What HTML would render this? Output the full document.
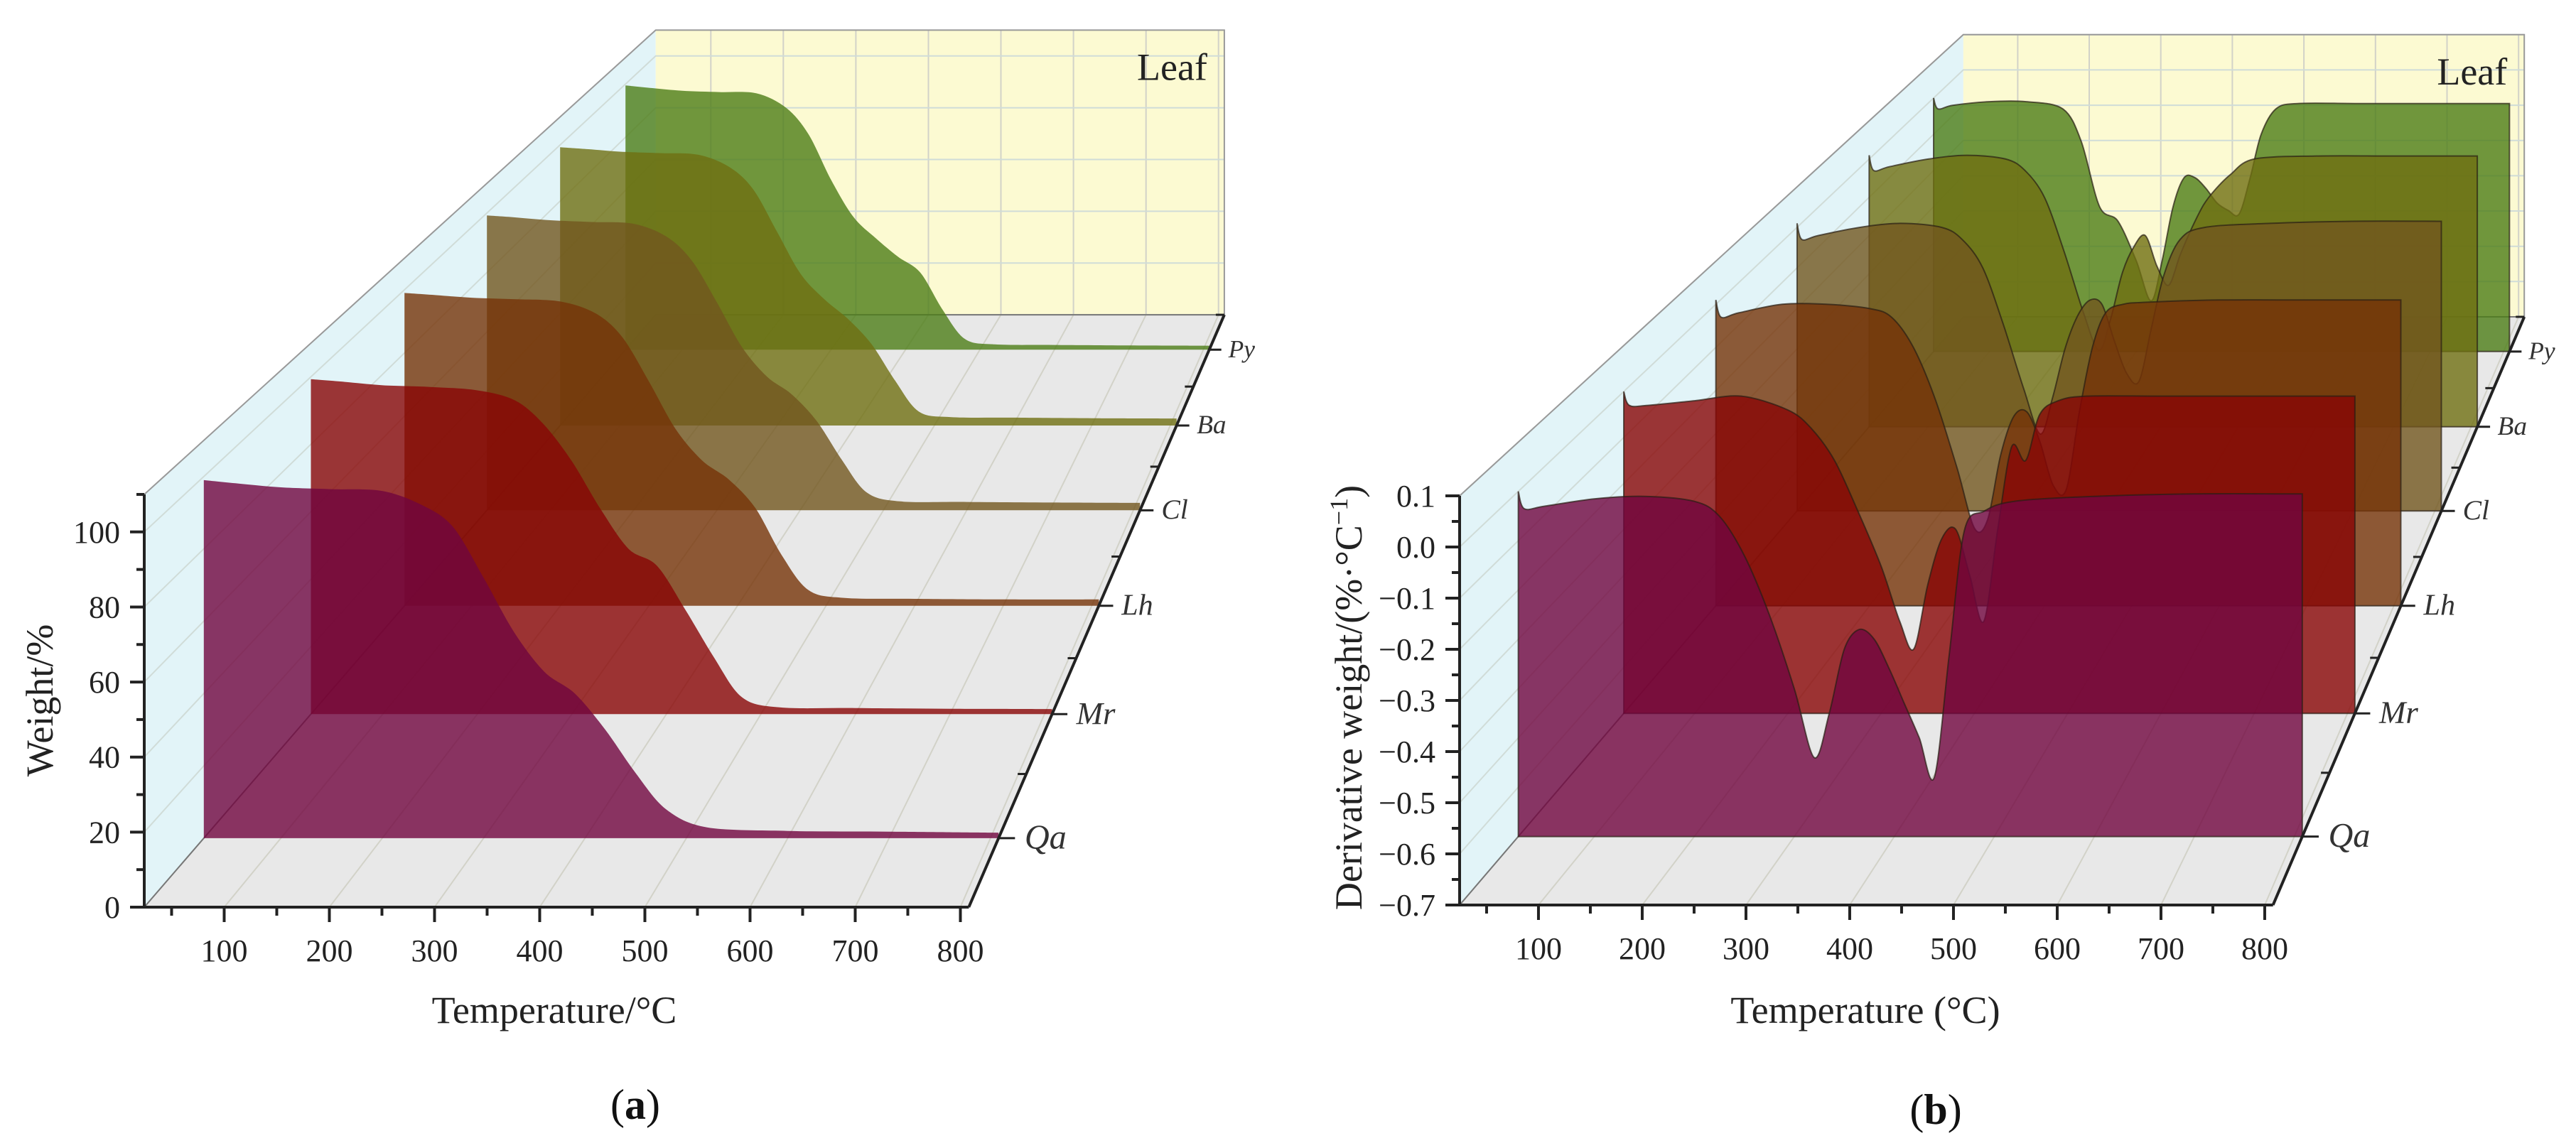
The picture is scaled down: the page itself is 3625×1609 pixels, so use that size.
<!DOCTYPE html>
<html><head><meta charset="utf-8">
<style>
html,body{margin:0;padding:0;background:#fff;}
svg{display:block;font-family:"Liberation Serif",serif;}
</style></head>
<body>
<svg id="chart" width="3625" height="1609" viewBox="0 0 3625 1609" xmlns="http://www.w3.org/2000/svg">
<g id="panelA"></g>
<g id="panelB"></g>
</svg>
<script>
// ---- data ----
const species = ["Qa","Mr","Lh","Cl","Ba","Py"];
const tgTemps = [24,60,100,150,200,240,270,300,330,360,390,420,450,480,520,600,700,808];
const tgQa = [99,98,97,96.5,96,92,86,72,57,46,40,30,18,8,3,2,1.8,1.5];
const tgMr = [99.3,98.5,97.5,97,96,93,86,75,61,49,44,31,17,5,2,1.8,1.6,1.5];
const tgLh = [99,98.3,97.5,97,96.3,92.5,85,71,56,46,40,31,16,5,2.5,2.2,2,2];
const tgCl = [99.2,98.5,97.6,97,96.4,92,84,70,55,45,39,30,17,6,3,2.8,2.6,2.5];
const tgBa = [99.2,98.5,97.6,97.1,96.5,92,84,69,54,45,38,29,16,5,3,2.8,2.6,2.5];
const tgPy = [99.5,98.5,97.5,97,96.5,91,81,64,50,42,35,29,15,4,2,1.8,1.6,1.5];
const tgSeries = [tgQa,tgMr,tgLh,tgCl,tgBa,tgPy];

const dtgTemps = [24,30,50,100,150,200,225,250,275,300,320,335,350,365,380,395,410,425,440,455,470,490,520,600,700,808];
const dtgQa = [0.0,-0.035,-0.03,-0.015,-0.01,-0.02,-0.05,-0.13,-0.25,-0.40,-0.54,-0.45,-0.32,-0.28,-0.30,-0.36,-0.43,-0.50,-0.58,-0.33,-0.08,-0.04,-0.02,-0.01,-0.005,-0.005];
const dtgMr = [0.0,-0.03,-0.03,-0.02,-0.01,-0.04,-0.08,-0.15,-0.26,-0.38,-0.50,-0.56,-0.42,-0.32,-0.30,-0.40,-0.50,-0.30,-0.12,-0.15,-0.05,-0.02,-0.01,-0.01,-0.01,-0.01];
const dtgLh = [0.01,-0.03,-0.02,0.0,0.0,-0.01,-0.03,-0.10,-0.22,-0.38,-0.52,-0.50,-0.35,-0.26,-0.25,-0.32,-0.42,-0.43,-0.25,-0.10,-0.02,0.0,0.005,0.01,0.01,0.01];
const dtgCl = [0.01,-0.03,-0.02,0.0,0.01,0.0,-0.03,-0.10,-0.24,-0.40,-0.51,-0.42,-0.30,-0.22,-0.18,-0.19,-0.28,-0.36,-0.38,-0.25,-0.12,-0.03,0.0,0.01,0.015,0.015];
const dtgBa = [0.01,-0.03,-0.02,0.0,0.01,0.0,-0.03,-0.10,-0.24,-0.40,-0.50,-0.42,-0.30,-0.23,-0.20,-0.28,-0.33,-0.25,-0.18,-0.12,-0.08,-0.04,0.0,0.008,0.008,0.008];
const dtgPy = [0.0,-0.03,-0.02,-0.01,-0.01,-0.03,-0.12,-0.30,-0.34,-0.45,-0.56,-0.45,-0.30,-0.22,-0.22,-0.25,-0.29,-0.31,-0.32,-0.22,-0.10,-0.03,-0.015,-0.015,-0.015,-0.015];
const dtgSeries = [dtgQa,dtgMr,dtgLh,dtgCl,dtgBa,dtgPy];

const xTicks = [100,200,300,400,500,600,700,800];
const xMinor = [50,150,250,350,450,550,650,750];
const yTicksA = [0,20,40,60,80,100];
const yMinorA = [10,30,50,70,90,110];
const yTicksB = [-0.7,-0.6,-0.5,-0.4,-0.3,-0.2,-0.1,0.0,0.1];
const yMinorB = [-0.65,-0.55,-0.45,-0.35,-0.25,-0.15,-0.05,0.05];

const colors = ["rgb(112,5,62)","rgb(136,5,5)","rgb(118,51,8)","rgb(114,86,30)","rgb(111,111,17)","rgb(76,125,22)"];
const NS = "http://www.w3.org/2000/svg";

function mk(parent, tag, attrs, text){
  const e = document.createElementNS(NS, tag);
  for (const k in attrs) e.setAttribute(k, attrs[k]);
  if (text !== undefined) e.textContent = text;
  parent.appendChild(e);
  return e;
}

function makeProj(c){
  return function(T, v, d){
    const s = 1/(1+0.075*d);
    const xf = c.ox + (T - c.T0)*c.kx;
    const yf = c.oy - (v - c.vmin)*c.ky;
    return [c.vpx + (xf - c.vpx)*s, c.vpy + (yf - c.vpy)*s];
  };
}
function poly(pts){ return pts.map(p=>p[0].toFixed(1)+","+p[1].toFixed(1)).join(" "); }
function smoothPath(pts){
  let d = "M"+pts[0][0].toFixed(1)+","+pts[0][1].toFixed(1);
  for (let i=0;i<pts.length-1;i++){
    const p0 = pts[i-1]||pts[i], p1=pts[i], p2=pts[i+1], p3=pts[i+2]||pts[i+1];
    const t = 0.16;
    const c1=[p1[0]+(p2[0]-p0[0])*t, p1[1]+(p2[1]-p0[1])*t];
    const c2=[p2[0]-(p3[0]-p1[0])*t, p2[1]-(p3[1]-p1[1])*t];
    d += " C"+c1[0].toFixed(1)+","+c1[1].toFixed(1)+" "+c2[0].toFixed(1)+","+c2[1].toFixed(1)+" "+p2[0].toFixed(1)+","+p2[1].toFixed(1);
  }
  return d;
}

function drawPanel(g, c, temps, series, yTicks, yMinor, fmt, outline){
  const P = makeProj(c);
  const D = 6;
  const floor = mk(g,"polygon",{points:poly([P(c.T0,c.vmin,0),P(c.Tmax,c.vmin,0),P(c.Tmax,c.vmin,D),P(c.T0,c.vmin,D)]),fill:"#e8e8e8"});
  
  
  const wall = mk(g,"polygon",{points:poly([P(c.T0,c.vmin,0),P(c.T0,c.vmax,0),P(c.T0,c.vmax,D),P(c.T0,c.vmin,D)]),fill:"#e2f4f8"});
  
  
  const back = mk(g,"polygon",{points:poly([P(c.T0,c.vmin,D),P(c.Tmax,c.vmin,D),P(c.Tmax,c.vmax,D),P(c.T0,c.vmax,D)]),fill:"#fcfad2"});
  
  
  xTicks.forEach(t=>{
    const a=P(t,c.vmin,0), b=P(t,c.vmin,D), e=P(t,c.vmax,D);
    const l1 = mk(g,"polyline",{points:poly([a,b,e]),fill:"none",stroke:"#d2d2c8","stroke-width":2});
    
    
  });
  yTicks.forEach(v=>{
    const a=P(c.T0,v,0), b=P(c.T0,v,D), e=P(c.Tmax,v,D);
    const l2 = mk(g,"polyline",{points:poly([a,b,e]),fill:"none",stroke:"#d0dcd8","stroke-width":2});
    
    
  });
  const e1 = mk(g,"polyline",{points:poly([P(c.T0,c.vmin,0),P(c.T0,c.vmin,D),P(c.Tmax,c.vmin,D)]),fill:"none",stroke:"#777","stroke-width":2});
  
  
  const e2 = mk(g,"polyline",{points:poly([P(c.T0,c.vmax,0),P(c.T0,c.vmax,D),P(c.Tmax,c.vmax,D),P(c.Tmax,c.vmin,D)]),fill:"none",stroke:"#999","stroke-width":2});
  
  
  for (let i=series.length-1;i>=0;i--){
    const d = i+0.5;
    const pts = temps.map((t,k)=>P(t, series[i][k], d));
    const last = P(temps[temps.length-1], c.vmin, d), first = P(temps[0], c.vmin, d);
    let path = smoothPath(pts)+" L"+last[0].toFixed(1)+","+last[1].toFixed(1)+" L"+first[0].toFixed(1)+","+first[1].toFixed(1)+" Z";
    const r = mk(g,"path",{d:path,fill:colors[i],"fill-opacity":0.8});
    if (outline){ r.setAttribute("stroke","rgba(40,30,20,0.7)"); r.setAttribute("stroke-width","2"); }
    
    
  }
  const o = P(c.T0,c.vmin,0), xr = P(c.Tmax,c.vmin,0), yt = P(c.T0,c.vmax,0), dr = P(c.Tmax,c.vmin,D);
  const xa = mk(g,"line",{x1:o[0],y1:o[1],x2:xr[0],y2:xr[1],stroke:"#222","stroke-width":4});
  
  
  const ya = mk(g,"line",{x1:o[0],y1:o[1],x2:yt[0],y2:yt[1],stroke:"#222","stroke-width":4});
  
  
  const za = mk(g,"line",{x1:xr[0],y1:xr[1],x2:dr[0],y2:dr[1],stroke:"#222","stroke-width":4});
  
  
  xTicks.forEach(t=>{
    const p=P(t,c.vmin,0);
    const tk = mk(g,"line",{x1:p[0],y1:p[1],x2:p[0],y2:p[1]+21,stroke:"#222","stroke-width":4});
    
    
    const lb = mk(g,"text",{x:p[0],y:p[1]+76,"font-size":44,"text-anchor":"middle",fill:"#222"},String(t));
    
    
  });
  xMinor.forEach(t=>{
    const p=P(t,c.vmin,0);
    const tk = mk(g,"line",{x1:p[0],y1:p[1],x2:p[0],y2:p[1]+12,stroke:"#222","stroke-width":4});
    
    
  });
  yTicks.forEach(v=>{
    const p=P(c.T0,v,0);
    const tk = mk(g,"line",{x1:p[0]-20,y1:p[1],x2:p[0],y2:p[1],stroke:"#222","stroke-width":4});
    
    
    const lb = mk(g,"text",{x:p[0]-34,y:p[1]+15,"font-size":44,"text-anchor":"end",fill:"#222"},fmt(v));
    
    
  });
  yMinor.forEach(v=>{
    const p=P(c.T0,v,0);
    const tk = mk(g,"line",{x1:p[0]-11,y1:p[1],x2:p[0],y2:p[1],stroke:"#222","stroke-width":4});
    
    
  });
  for (let k=0;k<=D;k++){
    const p=P(c.Tmax,c.vmin,k);
    const tk = mk(g,"line",{x1:p[0]-12,y1:p[1],x2:p[0],y2:p[1],stroke:"#222","stroke-width":3});
    
    
  }
  species.forEach((sp,i)=>{
    const d=i+0.5, s=1/(1+0.075*d);
    const p=P(c.Tmax,c.vmin,d);
    const tk = mk(g,"line",{x1:p[0],y1:p[1],x2:p[0]+24*s,y2:p[1],stroke:"#222","stroke-width":3});
    
    
    const lb = mk(g,"text",{x:p[0]+38*s,y:p[1]+15*s,"font-size":(50*s).toFixed(1),"font-style":"italic",fill:"#333"},sp);
    
    
  });
  const bt = P(c.Tmax,c.vmax,D);
  const leaf = mk(g,"text",{x:bt[0]-24,y:bt[1]+70,"font-size":54,"text-anchor":"end",fill:"#222"},"Leaf");
  
  
}

const cA = {ox:203,oy:1277,T0:24,Tmax:808,kx:1.48,vmin:0,vmax:110,ky:5.282,vpx:2522,vpy:-1410};
const cB = {ox:2054,oy:1274,T0:24,Tmax:808,kx:1.46,vmin:-0.7,vmax:0.1,ky:720,vpx:4338,vpy:-1394};
const gA = document.getElementById("panelA"), gB = document.getElementById("panelB");
drawPanel(gA,cA,tgTemps,tgSeries,yTicksA,yMinorA,v=>String(v),false);
drawPanel(gB,cB,dtgTemps,dtgSeries,yTicksB,yMinorB,v=>(v<0?"\u2212":"")+Math.abs(v).toFixed(1),true);

let t;
t = mk(gA,"text",{x:780,y:1440,"font-size":54,"text-anchor":"middle",fill:"#222"},"Temperature/\u00B0C");


t = mk(gA,"text",{x:0,y:0,"font-size":54,"text-anchor":"middle",fill:"#222",transform:"translate(74,986) rotate(-90)"},"Weight/%");


t = mk(gA,"text",{x:894,y:1575,"font-size":60,"text-anchor":"middle",fill:"#111"});
t.innerHTML = '(<tspan font-weight="bold">a</tspan>)';


t = mk(gB,"text",{x:2625,y:1440,"font-size":54,"text-anchor":"middle",fill:"#222"},"Temperature (\u00B0C)");


t = mk(gB,"text",{x:0,y:0,"font-size":54,"text-anchor":"middle",fill:"#222",transform:"translate(1916,982) rotate(-90)"});
t.innerHTML = 'Derivative weight/(%\u00B7\u00B0C<tspan font-size="36" dy="-20">\u22121</tspan><tspan dy="20">)</tspan>';


t = mk(gB,"text",{x:2724,y:1582,"font-size":60,"text-anchor":"middle",fill:"#111"});
t.innerHTML = '(<tspan font-weight="bold">b</tspan>)';


</script>
</body></html>
